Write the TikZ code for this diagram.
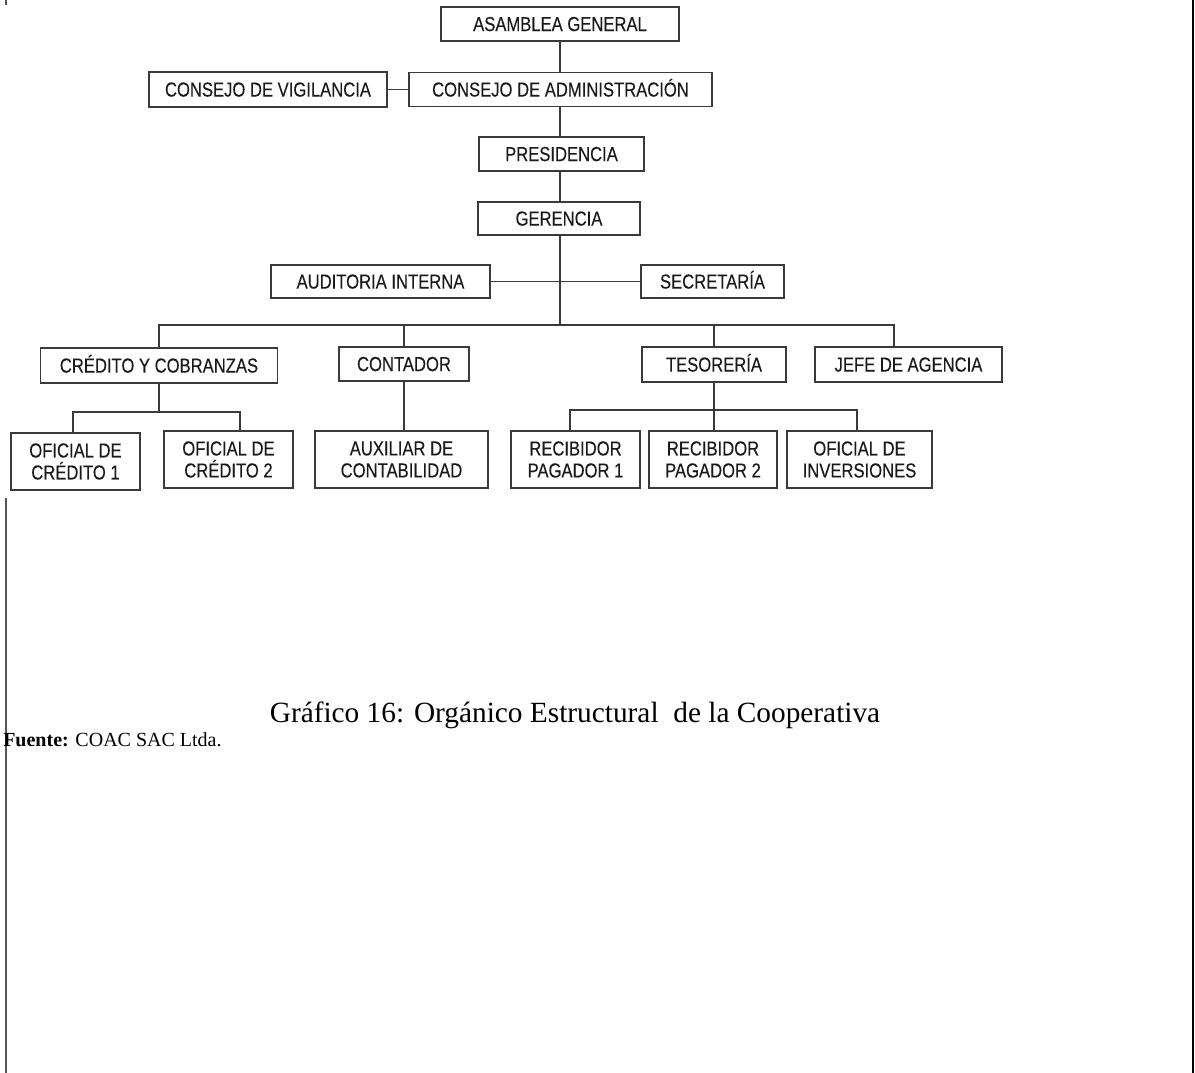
\documentclass[tikz,border=0pt]{standalone}
\usepackage{fontspec}
\setmainfont{Liberation Serif}
\newfontfamily\orgfont{Liberation Sans}[FakeStretch=0.82,FakeBold=0.2]
\definecolor{boxline}{HTML}{3A3A3A}
\definecolor{boxtext}{HTML}{1A1A1A}
\definecolor{edgeline}{HTML}{555555}
\begin{document}
\begin{tikzpicture}[x=0.75pt,y=-0.75pt,
  org/.style={draw=boxline, line width=1pt, inner sep=0pt, align=center,
    text=boxtext, font=\orgfont\fontsize{15.2}{16.5}\selectfont},
  orgone/.style={org, text height=10.6pt, text depth=0pt},
  link/.style={draw=boxline, line width=1pt}]
\useasboundingbox (0,0) rectangle (1195,1073);
% page edges
\draw[edgeline, line width=1.5pt] (6,0) -- (6,5);
\draw[edgeline, line width=1.5pt] (6,498) -- (6,1073);
\draw[black, line width=1.2pt] (1193,0) -- (1193,1073);
% boxes
\node[orgone, minimum width=238*0.75pt, minimum height=34*0.75pt] (asam) at (560,24) {ASAMBLEA GENERAL};
\node[orgone, minimum width=238*0.75pt, minimum height=35*0.75pt] (vig) at (268,89.5) {CONSEJO DE VIGILANCIA};
\node[orgone, minimum width=303*0.75pt, minimum height=34*0.75pt] (adm) at (560.5,89.5) {CONSEJO DE ADMINISTRACIÓN};
\node[orgone, minimum width=165*0.75pt, minimum height=34*0.75pt] (pres) at (561.5,154) {PRESIDENCIA};
\node[orgone, minimum width=162*0.75pt, minimum height=33*0.75pt] (ger) at (559,218.5) {GERENCIA};
\node[orgone, minimum width=219*0.75pt, minimum height=33*0.75pt] (aud) at (380.5,281.5) {AUDITORIA INTERNA};
\node[orgone, minimum width=143*0.75pt, minimum height=33*0.75pt] (sec) at (712.5,281.5) {SECRETARÍA};
\node[orgone, minimum width=237*0.75pt, minimum height=35*0.75pt] (cred) at (159,365.5) {CRÉDITO Y COBRANZAS};
\node[orgone, minimum width=130*0.75pt, minimum height=34*0.75pt] (cont) at (404,364) {CONTADOR};
\node[orgone, minimum width=144*0.75pt, minimum height=35*0.75pt] (tes) at (714,364.5) {TESORERÍA};
\node[orgone, minimum width=187*0.75pt, minimum height=35*0.75pt] (jefe) at (908.5,364.5) {JEFE DE AGENCIA};
\node[org, minimum width=129*0.75pt, minimum height=57*0.75pt] (oc1) at (75.5,461.5) {OFICIAL DE\\CRÉDITO 1};
\node[org, minimum width=129*0.75pt, minimum height=57*0.75pt] (oc2) at (228.5,459.5) {OFICIAL DE\\CRÉDITO 2};
\node[org, minimum width=173*0.75pt, minimum height=57*0.75pt] (aux) at (401.5,459.5) {AUXILIAR DE\\CONTABILIDAD};
\node[org, minimum width=129*0.75pt, minimum height=57*0.75pt] (rp1) at (575.5,459.5) {RECIBIDOR\\PAGADOR 1};
\node[org, minimum width=128*0.75pt, minimum height=57*0.75pt] (rp2) at (713,459.5) {RECIBIDOR\\PAGADOR 2};
\node[org, minimum width=145*0.75pt, minimum height=57*0.75pt] (oi) at (859.5,459.5) {OFICIAL DE\\INVERSIONES};
% helper coordinates
\coordinate (bus) at (560,325);
\coordinate (jtop) at (894,347);
\coordinate (cb) at (159,412);
\coordinate (oc1top) at (73,433);
\coordinate (oc2top) at (240,431);
\coordinate (tb) at (714,410);
\coordinate (rp1top) at (570,431);
\coordinate (oitop) at (857,431);
% connectors
\draw[link] (asam.south) -- (asam.south |- adm.north);
\draw[link] (adm.south -| asam.south) -- (asam.south |- pres.north);
\draw[link] (pres.south -| asam.south) -- (asam.south |- ger.north);
\draw[link] (ger.south -| asam.south) -- (bus);
\draw[link] (vig.east) -- (adm.west);
\draw[link] (aud.east) -- (sec.west);
\draw[link] (cred.north) |- (bus) -| (jtop);
\draw[link] (cont.north) -- (cont.north |- bus);
\draw[link] (tes.north) -- (tes.north |- bus);
\draw[link] (cred.south) -- (cb);
\draw[link] (oc1top) |- (cb) -| (oc2top);
\draw[link] (cont.south) -- (cont.south |- aux.north);
\draw[link] (tes.south) -- (tb);
\draw[link] (rp1top) |- (tb) -| (oitop);
\draw[link] (tb) -- (tb |- rp2.north);
% caption
\node[font=\fontsize{22}{26}\selectfont, anchor=base] (cap) at (575,722) {Gráfico 16: Orgánico Estructural\ \ de la Cooperativa};
\node[font=\fontsize{15}{18}\selectfont, anchor=base west, inner sep=0pt] (src) at (3,746) {\textbf{Fuente:} COAC SAC Ltda.};
\end{tikzpicture}
\end{document}
